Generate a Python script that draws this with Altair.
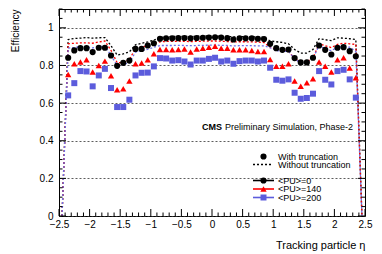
import altair as alt
import pandas as pd

# ---------------- data ----------------
eta_bins = [-2.45, -2.35, -2.25, -2.15, -2.05, -1.95, -1.85, -1.75, -1.65, -1.55,
            -1.45, -1.35, -1.25, -1.15, -1.05, -0.95, -0.85, -0.75, -0.65, -0.55,
            -0.45, -0.35, -0.25, -0.15, -0.05, 0.05, 0.15, 0.25, 0.35, 0.45,
            0.55, 0.65, 0.75, 0.85, 0.95, 1.05, 1.15, 1.25, 1.35, 1.45,
            1.55, 1.65, 1.75, 1.85, 1.95, 2.05, 2.15, 2.25, 2.35, 2.45]

# with truncation (markers), bins -2.35 .. 2.35
trunc_pu0 = [0.841, 0.880, 0.892, 0.892, 0.871, 0.894, 0.894, 0.853, 0.798, 0.814,
             0.826, 0.888, 0.888, 0.906, 0.918, 0.942, 0.944, 0.944, 0.945, 0.946,
             0.944, 0.946, 0.947, 0.948, 0.950, 0.948, 0.945, 0.938, 0.944, 0.944,
             0.944, 0.942, 0.940, 0.915, 0.892, 0.883, 0.885, 0.839, 0.816, 0.816,
             0.841, 0.906, 0.883, 0.858, 0.894, 0.897, 0.876, 0.849]
trunc_pu140 = [0.752, 0.809, 0.818, 0.830, 0.765, 0.800, 0.823, 0.745, 0.671, 0.676,
               0.717, 0.809, 0.813, 0.830, 0.862, 0.885, 0.885, 0.883, 0.885, 0.888,
               0.871, 0.888, 0.892, 0.897, 0.902, 0.892, 0.892, 0.883, 0.883, 0.883,
               0.880, 0.874, 0.874, 0.832, 0.796, 0.796, 0.809, 0.717, 0.690, 0.708,
               0.729, 0.818, 0.796, 0.765, 0.830, 0.841, 0.786, 0.735]
trunc_pu200 = [0.641, 0.706, 0.770, 0.768, 0.689, 0.747, 0.782, 0.680, 0.579, 0.579,
               0.618, 0.747, 0.761, 0.762, 0.795, 0.839, 0.837, 0.826, 0.828, 0.821,
               0.805, 0.826, 0.826, 0.835, 0.841, 0.821, 0.826, 0.809, 0.823, 0.826,
               0.826, 0.821, 0.826, 0.788, 0.724, 0.719, 0.726, 0.655, 0.623, 0.627,
               0.650, 0.770, 0.724, 0.699, 0.770, 0.777, 0.726, 0.629]

# without truncation (dotted lines), bins -2.45 .. 2.45
notrunc_pu0 = [0.0, 0.938, 0.943, 0.945, 0.948, 0.945, 0.947, 0.948, 0.905, 0.855,
               0.862, 0.872, 0.910, 0.918, 0.925, 0.935, 0.948, 0.953, 0.954, 0.955,
               0.955, 0.954, 0.955, 0.956, 0.957, 0.957, 0.955, 0.954, 0.952, 0.953,
               0.953, 0.952, 0.951, 0.950, 0.930, 0.926, 0.922, 0.915, 0.885, 0.866,
               0.866, 0.885, 0.942, 0.937, 0.932, 0.947, 0.945, 0.942, 0.938, 0.0]
notrunc_pu140 = [0.0, 0.915, 0.918, 0.920, 0.920, 0.918, 0.925, 0.930, 0.880, 0.815,
                 0.815, 0.832, 0.890, 0.898, 0.905, 0.918, 0.925, 0.928, 0.928, 0.929,
                 0.928, 0.927, 0.928, 0.929, 0.930, 0.930, 0.929, 0.927, 0.925, 0.926,
                 0.926, 0.925, 0.924, 0.922, 0.897, 0.885, 0.878, 0.876, 0.835, 0.818,
                 0.820, 0.840, 0.915, 0.905, 0.895, 0.912, 0.918, 0.915, 0.912, 0.0]
notrunc_pu200 = [0.0, 0.892, 0.895, 0.900, 0.898, 0.893, 0.900, 0.903, 0.853, 0.800,
                 0.805, 0.815, 0.871, 0.878, 0.885, 0.897, 0.906, 0.906, 0.906, 0.907,
                 0.906, 0.905, 0.906, 0.907, 0.908, 0.908, 0.907, 0.906, 0.904, 0.905,
                 0.905, 0.905, 0.904, 0.904, 0.894, 0.880, 0.874, 0.876, 0.835, 0.813,
                 0.815, 0.838, 0.906, 0.888, 0.878, 0.897, 0.900, 0.897, 0.875, 0.0]

x_major_ticks = [-2.5, -2.0, -1.5, -1.0, -0.5, 0.0, 0.5, 1.0, 1.5, 2.0, 2.5]
x_minor_ticks = [-2.4, -2.3, -2.2, -2.1, -1.9, -1.8, -1.7, -1.6, -1.4, -1.3, -1.2, -1.1,
                 -0.9, -0.8, -0.7, -0.6, -0.4, -0.3, -0.2, -0.1, 0.1, 0.2, 0.3, 0.4,
                 0.6, 0.7, 0.8, 0.9, 1.1, 1.2, 1.3, 1.4, 1.6, 1.7, 1.8, 1.9,
                 2.1, 2.2, 2.3, 2.4]
y_major_ticks = [0.0, 0.2, 0.4, 0.6, 0.8, 1.0]
y_minor_ticks = [0.05, 0.1, 0.15, 0.25, 0.3, 0.35, 0.45, 0.5, 0.55, 0.65, 0.7, 0.75,
                 0.85, 0.9, 0.95, 1.05, 1.1]

legend_labels = ["With truncation", "Without truncation", "<PU>=0", "<PU>=140", "<PU>=200"]
cms_label = "CMS"
cms_sub = "Preliminary Simulation, Phase-2"

# ---------------- styling ----------------
W, H = 306, 207
FONT = "Liberation Sans"
BLACK, RED, BLUE, BLUE_LINE = "#000000", "#ff0000", "#5c5cdc", "#6e6eea"

xs = alt.Scale(domain=[-2.5, 2.5], nice=False, zero=False)
ys = alt.Scale(domain=[0, 1.1], nice=False, zero=False)
xaxis = alt.Axis(values=x_major_ticks, format="~g", ticks=False, domain=False, grid=False,
                 labelFont=FONT, labelFontSize=10, labelPadding=3, labelColor="black",
                 labelFlush=False,
                 title="Tracking particle \u03b7", titleFont=FONT, titleFontSize=11,
                 titleFontWeight="normal", titleColor="black", titleX=W, titleY=32,
                 titleAlign="right", titleBaseline="alphabetic")
yaxis = alt.Axis(values=y_major_ticks, format="~g", ticks=False, domain=False, grid=True,
                 gridDash=[2, 2], gridColor="#333333", gridWidth=0.8,
                 labelFont=FONT, labelFontSize=10, labelPadding=6, labelColor="black",
                 labelFlush=False,
                 title="Efficiency", titleFont=FONT, titleFontSize=10,
                 titleFontWeight="normal", titleColor="black", titleX=-44, titleY=0,
                 titleAngle=270, titleAlign="right", titleBaseline="middle")

def X():
    return alt.X("eta:Q", scale=xs, axis=xaxis)

def Y():
    return alt.Y("eff:Q", scale=ys, axis=yaxis)

layers = []

# dotted "without truncation" lines
for vals, col in [(notrunc_pu0, BLACK), (notrunc_pu140, RED), (notrunc_pu200, BLUE_LINE)]:
    df = pd.DataFrame({"eta": eta_bins, "eff": vals})
    layers.append(alt.Chart(df).mark_line(color=col, strokeDash=[2, 2], strokeWidth=1.3)
                  .encode(x=X(), y=Y()))

# markers "with truncation"
mk_eta = eta_bins[1:-1]
for vals, col, shape, size in [(trunc_pu0, BLACK, "circle", 38),
                               (trunc_pu140, RED, "triangle-up", 40),
                               (trunc_pu200, BLUE, "square", 36)]:
    df = pd.DataFrame({"eta": mk_eta, "eff": vals})
    layers.append(alt.Chart(df).mark_point(filled=True, shape=shape, size=size, color=col,
                                           opacity=1)
                  .encode(x=X(), y=Y()))

# inward ticks on all four sides
def xticks(vals, L):
    df = pd.DataFrame({"eta": vals})
    bot = alt.Chart(df).mark_rule(color="black", strokeWidth=1).encode(
        x=X(), y=alt.value(H), y2=alt.value(H - L))
    top = alt.Chart(df).mark_rule(color="black", strokeWidth=1).encode(
        x=X(), y=alt.value(0), y2=alt.value(L))
    return [bot, top]

def yticks(vals, L):
    df = pd.DataFrame({"eff": vals})
    lft = alt.Chart(df).mark_rule(color="black", strokeWidth=1).encode(
        y=Y(), x=alt.value(0), x2=alt.value(L))
    rgt = alt.Chart(df).mark_rule(color="black", strokeWidth=1).encode(
        y=Y(), x=alt.value(W), x2=alt.value(W - L))
    return [lft, rgt]

layers += xticks(x_major_ticks, 7) + xticks(x_minor_ticks, 3.5)
layers += yticks(y_major_ticks, 7) + yticks(y_minor_ticks, 3.5)

# CMS label
one = pd.DataFrame({"t": [cms_label]})
layers.append(alt.Chart(one).mark_text(font=FONT, fontSize=9, fontWeight="bold",
                                       align="left", baseline="middle", color="black")
              .encode(text="t:N", x=alt.value(143), y=alt.value(118)))
sub = pd.DataFrame({"t": [cms_sub]})
layers.append(alt.Chart(sub).mark_text(font=FONT, fontSize=9, align="left",
                                       baseline="middle", color="black")
              .encode(text="t:N", x=alt.value(166), y=alt.value(118)))

# legend
leg_y = [147.5, 155.5, 171.5, 180, 188.5]
LX0, LX1, LMK, LTX = 194, 215, 204.5, 219
for lab, yy in zip(legend_labels, leg_y):
    d = pd.DataFrame({"t": [lab]})
    layers.append(alt.Chart(d).mark_text(font=FONT, fontSize=9, align="left",
                                         baseline="middle", color="black")
                  .encode(text="t:N", x=alt.value(LTX), y=alt.value(yy)))

d0 = pd.DataFrame({"t": [legend_labels[0]]})
layers.append(alt.Chart(d0).mark_point(filled=True, shape="circle", size=38, color=BLACK,
                                       opacity=1)
              .encode(x=alt.value(LMK), y=alt.value(leg_y[0])))
d1 = pd.DataFrame({"t": [legend_labels[1]]})
layers.append(alt.Chart(d1).mark_rule(color=BLACK, strokeDash=[2, 2], strokeWidth=1.3)
              .encode(x=alt.value(LX0), x2=alt.value(LX1 - 2), y=alt.value(leg_y[1])))
for lab, yy, col, shape, size in [(legend_labels[2], leg_y[2], BLACK, "circle", 38),
                                  (legend_labels[3], leg_y[3], RED, "triangle-up", 40),
                                  (legend_labels[4], leg_y[4], BLUE, "square", 36)]:
    d = pd.DataFrame({"t": [lab]})
    layers.append(alt.Chart(d).mark_rule(color=col, strokeWidth=1.6)
                  .encode(x=alt.value(LX0), x2=alt.value(LX1), y=alt.value(yy)))
    layers.append(alt.Chart(d).mark_point(filled=True, shape=shape, size=size, color=col,
                                          opacity=1)
                  .encode(x=alt.value(LMK), y=alt.value(yy)))

chart = alt.layer(*layers).properties(
    width=W, height=H,
    autosize=alt.AutoSizeParams(type="none"),
    padding={"left": 51, "top": 1, "right": 9, "bottom": 37},
    background="white",
).configure_view(stroke="black", strokeWidth=1)

chart.save("out.html", embed_options={"renderer": "svg", "actions": False})
